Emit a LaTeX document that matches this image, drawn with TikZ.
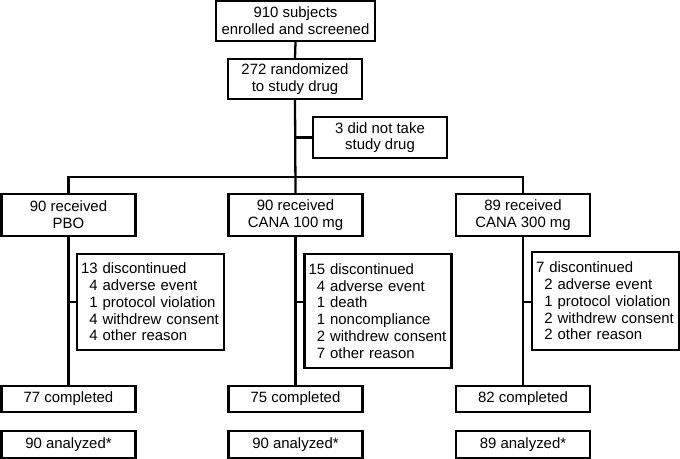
\documentclass[tikz,border=0pt]{standalone}
\usepackage{fontspec}
\setmainfont{Liberation Sans}
\usetikzlibrary{calc}
\tikzset{%
  box/.style={draw,line width=1.3pt,inner sep=0pt,align=center,
    font=\fontsize{8.5}{9.5}\selectfont},
  disc/.style={draw,line width=1.3pt,inner xsep=0.08cm,inner ysep=0pt,
    align=left,text width=2.78cm,font=\fontsize{8.5}{9.5}\selectfont},
  link/.style={line width=1.3pt}
}

\begin{document}
\hyphenpenalty=10000
\begin{tikzpicture}[x=0.02cm,y=-0.02cm]
      \useasboundingbox (0,0) rectangle (680,459);
      % top of the chart
      \node[box,minimum width=3.18cm,minimum height=0.80cm] (enrol) at (295.5,21)
      {910 subjects\\enrolled and screened};
      \node[box,minimum width=2.68cm,minimum height=0.80cm] (rand) at (295,79)
      {272 randomized\\to study drug};
      \node[box,minimum width=2.68cm,minimum height=0.82cm] (nottake) at (380,137.5)
      {3 did not take\\study drug};
      \coordinate (split) at (295,177);

      % received
      \node[box,minimum width=2.68cm,minimum height=0.84cm] (recvA) at (68.5,215)
      {90 received\\PBO};
      \node[box,minimum width=2.68cm,minimum height=0.84cm] (recvB) at (295.5,215)
      {90 received\\CANA 100 mg};
      \node[box,minimum width=2.68cm,minimum height=0.84cm] (recvC) at (523,215)
      {89 received\\CANA 300 mg};

      % discontinued
      \node[disc,minimum height=1.92cm] (discA) at (150.5,302)
      {13 discontinued\\\hphantom{0}4 adverse event\\\hphantom{0}1 protocol violation\\
        \hphantom{0}4 withdrew consent\\\hphantom{0}4 other reason};
      \node[disc,minimum height=2.28cm] (discB) at (378,311)
      {15 discontinued\\\hphantom{0}4 adverse event\\\hphantom{0}1 death\\
        \hphantom{0}1 noncompliance\\\hphantom{0}2 withdrew consent\\\hphantom{0}7 other reason};
      \node[disc,minimum height=1.96cm] (discC) at (605.5,301)
      {7 discontinued\\\hphantom{0}2 adverse event\\\hphantom{0}1 protocol violation\\
        \hphantom{0}2 withdrew consent\\\hphantom{0}2 other reason};

      % completed and analyzed
      \node[box,minimum width=2.68cm,minimum height=0.52cm] (doneA) at (68.5,399)
      {77 completed};
      \node[box,minimum width=2.68cm,minimum height=0.52cm] (doneB) at (295.5,399)
      {75 completed};
      \node[box,minimum width=2.68cm,minimum height=0.52cm] (doneC) at (523,399)
      {82 completed};
      \node[box,minimum width=2.68cm,minimum height=0.54cm] (anaA) at (68.5,444.5)
      {90 analyzed*};
      \node[box,minimum width=2.68cm,minimum height=0.54cm] (anaB) at (295.5,444.5)
      {90 analyzed*};
      \node[box,minimum width=2.68cm,minimum height=0.54cm] (anaC) at (523,444.5)
      {89 analyzed*};

      % connectors
      \draw[link] (enrol.south) -- (rand.north);
      \draw[link] (rand.south) -- (recvB.north);
      \draw[link] (rand.south |- nottake.west) -- (nottake.west);
      \draw[link] (recvA.north) |- (split) -| (recvC.north);
      \draw[link] (recvA.south) -- (doneA.north);
      \draw[link] (recvB.south) -- (doneB.north);
      \draw[link] (recvC.south) -- (doneC.north);
      \draw[link] (recvA.south |- discA.west) -- (discA.west);
      \draw[link] (recvB.south |- discA.west) -- (discB.west |- discA.west);
      \draw[link] (recvC.south |- discA.west) -- (discC.west |- discA.west);
    \end{tikzpicture}
\end{document}
